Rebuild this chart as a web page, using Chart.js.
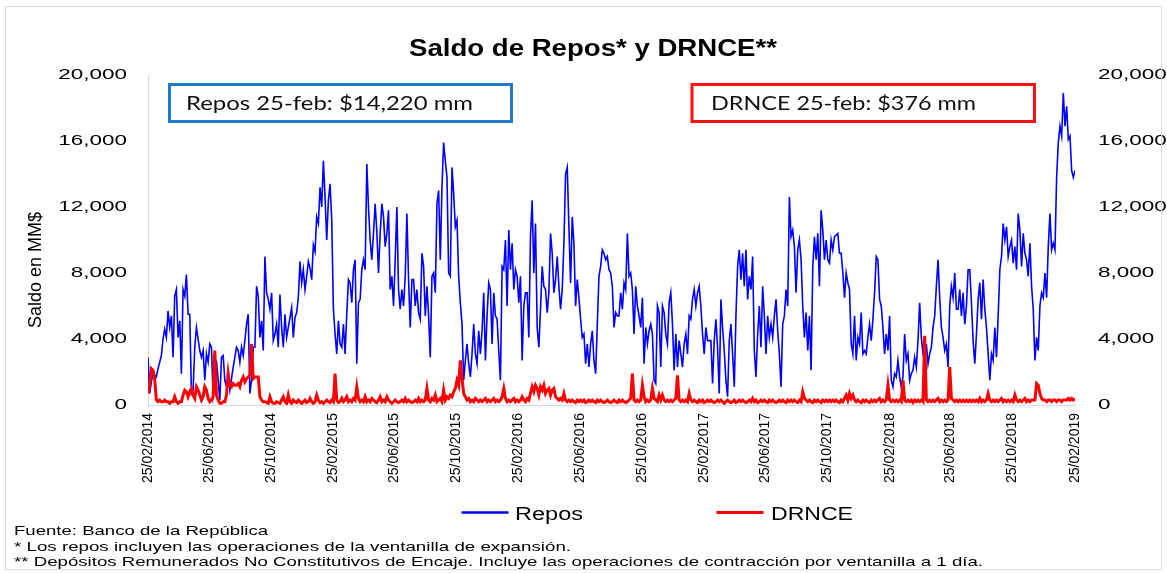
<!DOCTYPE html>
<html>
<head>
<meta charset="utf-8">
<script src="https://cdn.jsdelivr.net/npm/chart.js@4.4.1/dist/chart.umd.min.js"></script>
<style>
html,body{margin:0;padding:0;background:#fff;}
canvas{display:block;}
</style>
</head>
<body>
<canvas id="c" width="1167" height="573"></canvas>
<script>
// ---------- DATA ----------
const chartTitle = 'Saldo de Repos* y DRNCE**';
const yAxisTitle = 'Saldo en MM$';
const seriesNames = ['Repos', 'DRNCE'];
const reposNote = 'Repos 25-feb: $14,220 mm';
const drnceNote = 'DRNCE 25-feb: $376 mm';
const footnotes = [
  'Fuente: Banco de la República',
  '* Los repos incluyen las operaciones de la ventanilla de expansión.',
  '** Depósitos Remunerados No Constitutivos de Encaje. Incluye las operaciones de contracción por ventanilla a 1 día.'
];
const startDate = '2014-02-25';
const endDate = '2019-02-25';
const tickLabels = ['25/02/2014','25/06/2014','25/10/2014','25/02/2015','25/06/2015','25/10/2015',
  '25/02/2016','25/06/2016','25/10/2016','25/02/2017','25/06/2017','25/10/2017',
  '25/02/2018','25/06/2018','25/10/2018','25/02/2019'];
const yTicks = [0, 4000, 8000, 12000, 16000, 20000];

// Repos (MM$), evenly spaced observations from 25/02/2014 to 25/02/2019
const repos = [
2900,700,1400,1900,1800,1700,2200,2600,3000,4000,
4600,4100,5700,4700,5400,2900,6600,7000,4100,5100,
1900,7000,6600,7900,5500,5500,700,900,3500,4700,
4000,3300,2900,3300,1500,3100,2600,3700,3500,500,
1100,2700,1500,300,2900,3000,1500,1100,1700,900,
1600,2300,2900,3500,3300,2600,3500,3000,3900,4900,
5500,700,1500,3500,3500,7200,6600,4100,5100,3300,
9000,6800,6400,5800,6800,3900,4300,4900,3500,6700,
4700,3500,5500,4100,4700,5300,5900,4100,5300,5600,
6500,8700,7400,8200,7000,7800,8700,8300,7600,9700,
9300,11400,11000,13200,12000,14800,12600,10000,12400,13400,
11200,5800,4300,3100,5100,3700,3500,4900,3100,5500,
7600,7400,6200,8200,8800,2500,6200,6400,8200,8800,
8200,14600,
12000,10000,8800,10400,12200,10500,8000,10400,12200,11400,
9600,10400,11800,7000,7800,6000,8800,12000,7000,5800,
7000,6000,7800,11600,7600,4700,7600,7600,6000,7000,
5600,5200,9200,8400,5400,7200,5400,2900,7800,8000,
6800,12200,13000,8800,13200,15900,14800,13800,8000,7800,
14400,12800,10800,11200,7800,6200,4900,1500,2700,3700,
2500,1700,3100,4900,3100,2500,4500,3100,4500,6800,
2700,5400,7400,
7000,3700,6800,5400,5200,3300,1500,8400,8200,10000,
6000,10600,8200,9800,7000,8200,7800,6200,7800,2700,
6000,6800,6800,4100,10200,12400,8000,11000,4700,3500,
5800,8400,7200,7000,5600,6800,10400,9200,6800,7600,
9000,7200,5800,7000,9800,14000,14400,10800,7400,11400,
9800,6000,7600,6500,5200,4100,4300,2500,3700,2300,
3700,4500,2700,1900,4900,7800,8400,9400,9200,8800,
9000,8200,8000,7200,4700,5600,5400,5400,6800,5800,
7400,7000,10400,7800,8000,7000,4300,7200,6000,5400,
4700,6500,2500,4700,3700,4500,4900,4300,1500,1300,
6000,5600,2300,6000,5600,4300,3700,6200,6800,4900,
2100,4300,2300,3900,3100,2300,3700,4300,3100,5400,
5200,6400,7000,6000,6800,7200,6000,4300,3100,4700,
3900,3900,3900,1300,3900,5200,3500,700,6400,4700,
3300,1500,500,3900,4900,3100,1100,5400,8400,9400,
7600,9200,7200,9400,6400,7800,7000,9000,3300,1700,
4300,6000,3500,7200,5400,3100,5400,4100,4900,4100,
5400,6400,4500,3100,1100,4900,5400,7000,6000,12600,
10200,10600,9600,6800,9400,10000,8800,6000,4100,5600,
3300,5400,2100,8400,10200,8800,10400,7200,11800,10600,
8800,10000,8800,8600,
10000,9400,10200,10300,10400,9200,9200,8000,6500,8000,
7400,7000,3700,3100,5400,2700,4100,3700,5600,3100,
3300,3100,4100,4900,3900,5200,6800,9000,8800,6400,
6000,4700,3100,4300,3300,5400,1500,1100,1900,1700,
2700,1700,1100,1700,4300,2700,3100,1500,1900,2100,
2900,2300,3900,6200,4100,3100,2700,3700,2500,3100,
3500,4700,5400,7200,8800,6500,4700,4100,3300,3700,
2300,6000,7200,6500,8000,5800,5800,7000,5400,6800,
4900,6000,8200,8200,6200,3900,2500,4300,6400,7400,
5200,7600,5800,4700,3100,1500,3100,2700,4700,2900,
5400,8200,9000,11000,10000,10800,9000,9600,10000,8600,
9600,8200,11600,10600,8400,10400,9200,8800,7800,9800,
7200,5800,2700,4100,3300,6000,6800,6500,8000,6500,
9600,11600,9400,9800,9400,13800,15900,16900,16300,18900,
16900,18100,16100,16300,14200,13800,14220
];

// DRNCE (MM$), same observation dates
const drnce = [
700,1200,2200,2100,1600,300,200,300,200,200,
300,200,200,100,200,200,500,200,100,200,
200,600,900,800,500,800,1000,600,400,1100,
900,600,300,500,1100,900,400,200,300,500,
3300,600,300,100,100,200,200,600,1900,1200,
1100,1300,1200,1200,1300,1100,1500,1700,1400,1600,
1700,1800,3700,1600,1700,1700,1700,500,300,200,
200,150,100,500,200,100,100,200,150,100,
300,500,200,100,600,200,100,300,200,150,
300,200,100,200,300,150,200,400,200,100,
200,600,300,150,200,100,200,300,200,150,
300,200,1900,300,150,200,400,200,300,500,
200,300,200,400,300,1100,400,200,300,200,
500,200,300,200,400,300,200,150,300,500,
200,300,200,500,300,200,100,200,300,200,
150,200,300,200,400,200,300,200,150,200,
300,200,400,200,300,200,300,1000,300,200,
400,300,600,200,300,400,200,900,300,500,
400,600,500,800,1000,1500,1200,2700,1600,700,
500,300,400,200,300,200,400,300,200,300,
200,300,400,200,300,200,300,400,200,300,
200,300,500,1000,400,200,300,200,300,400,
200,300,200,300,500,300,200,400,300,700,
1100,800,1200,1000,600,1100,900,1200,700,900,
1000,600,900,1000,500,400,300,400,300,700,
300,200,300,200,300,200,150,300,200,300,
200,300,150,200,300,200,300,200,150,300,
200,300,200,150,200,300,200,150,200,300,
200,150,300,200,300,200,150,200,300,400,
1900,300,200,300,200,300,1200,500,200,300,
200,300,1000,400,300,200,600,300,600,300,
200,300,200,300,200,300,400,1800,300,200,
300,200,300,200,700,300,200,300,200,150,
300,200,300,150,200,300,200,300,200,150,
200,300,200,300,200,100,200,300,200,150,
200,300,150,200,300,200,300,200,150,200,
300,200,400,200,300,150,200,300,200,300,
200,150,300,200,300,200,150,200,300,200,
300,200,150,300,200,300,200,300,200,150,
300,200,800,400,300,200,300,200,150,300,
200,300,200,150,300,200,300,200,300,200,
300,200,300,200,150,300,200,400,600,300,
700,400,600,300,200,300,200,150,300,200,
300,200,150,300,200,300,200,300,400,200,
300,200,300,1200,300,200,300,200,300,200,
300,200,1500,300,200,300,200,300,150,300,
200,300,200,300,200,4200,300,200,300,200,
300,200,300,400,200,300,200,300,200,300,
2300,400,300,200,300,200,300,200,300,200,
300,200,300,200,300,200,300,200,400,200,
300,200,300,700,300,200,300,200,300,200,
300,400,200,300,200,300,200,300,200,600,
300,200,300,200,300,400,200,300,200,300,
300,300,1300,1200,700,400,300,300,200,300,
300,200,300,300,200,300,300,200,300,300,
300,400,300,400,300,376
];

// ---------- HELPERS ----------
const DAY = 86400000;
function parseDMY(s){ const [d,m,y] = s.split('/').map(Number); return Date.UTC(y, m-1, d); }
function parseISO(s){ const [y,m,d] = s.split('-').map(Number); return Date.UTC(y, m-1, d); }
const t0 = parseISO(startDate);
const totalDays = Math.round((parseISO(endDate) - t0) / DAY);
const tickDays = tickLabels.map(l => Math.round((parseDMY(l) - t0) / DAY));
function toPoints(arr){ const step = totalDays / (arr.length - 1); return arr.map((v,i) => ({x: i*step, y: v})); }

// horizontally widened glyphs for a scale's tick labels
function widened(scale, sx){
  if (scale.$wide) return;
  const orig = scale.drawLabels;
  scale.drawLabels = function(area){
    const c = this.ctx;
    const of = c.fillText;
    c.fillText = function(t, x, y, mw){
      this.save(); this.translate(x, y); this.scale(sx, 1);
      of.call(this, t, 0, 0); this.restore();
    };
    try { orig.call(this, area); } finally { delete c.fillText; }
  };
  scale.$wide = true;
}
function fitText(ctx, text, x, y, width){
  const w = ctx.measureText(text).width;
  ctx.save();
  ctx.translate(x, y);
  ctx.scale(width / w, 1);
  ctx.textAlign = 'left';
  ctx.fillText(text, 0, 0);
  ctx.restore();
}

const FONT = '"Liberation Sans", Arial, sans-serif';

const overlay = {
  id: 'overlay',
  beforeDraw(chart){
    const ctx = chart.ctx;
    ctx.save();
    ctx.fillStyle = '#fff';
    ctx.fillRect(0, 0, chart.width, chart.height);
    ctx.restore();
  },
  afterDraw(chart){
    const ctx = chart.ctx;
    ctx.save();
    // outer frame
    ctx.strokeStyle = '#d9d9d9';
    ctx.lineWidth = 1;
    ctx.strokeRect(5.5, 6.5, 1156, 563);

    ctx.fillStyle = '#000';
    ctx.textBaseline = 'alphabetic';
    // title
    ctx.font = 'bold 23px ' + FONT;
    fitText(ctx, chartTitle, 409, 55.5, 368);

    // y axis title
    ctx.save();
    ctx.translate(41, 270);
    ctx.rotate(-Math.PI/2);
    ctx.font = '18px ' + FONT;
    ctx.textAlign = 'center';
    ctx.fillText(yAxisTitle, 0, 0);
    ctx.restore();

    // note boxes
    ctx.lineWidth = 3;
    ctx.strokeStyle = '#1f78c8';
    ctx.strokeRect(169.5, 84.5, 342, 37);
    ctx.strokeStyle = '#ff1111';
    ctx.strokeRect(692, 84.5, 342.5, 37);
    ctx.fillStyle = '#111';
    ctx.font = '18.5px Lato, "Open Sans", sans-serif';
    fitText(ctx, reposNote, 186, 109.5, 287);
    fitText(ctx, drnceNote, 711, 109.5, 265);

    // legend
    const ds = chart.data.datasets;
    ctx.lineWidth = 2.5;
    ctx.strokeStyle = ds[0].borderColor;
    ctx.beginPath(); ctx.moveTo(461.5, 512.5); ctx.lineTo(508.5, 512.5); ctx.stroke();
    ctx.lineWidth = 3;
    ctx.strokeStyle = ds[1].borderColor;
    ctx.beginPath(); ctx.moveTo(716.5, 512.5); ctx.lineTo(763.5, 512.5); ctx.stroke();
    ctx.fillStyle = '#000';
    ctx.font = '18px ' + FONT;
    fitText(ctx, seriesNames[0], 515, 520, 68);
    fitText(ctx, seriesNames[1], 771, 520, 82);

    // footnotes
    ctx.font = '13.5px ' + FONT;
    fitText(ctx, footnotes[0], 14, 534.5, 254);
    fitText(ctx, footnotes[1], 14, 550.5, 557);
    fitText(ctx, footnotes[2], 14, 566, 969);
    ctx.restore();
  }
};

const yTickCfg = (pad) => ({
  padding: pad,
  color: '#000',
  font: { family: FONT, size: 15.5 },
  callback: v => Number(v).toLocaleString('en-US')
});

new Chart(document.getElementById('c').getContext('2d'), {
  type: 'line',
  data: {
    datasets: [
      { label: seriesNames[0], data: toPoints(repos), borderColor: '#0000ff', borderWidth: 1.6,
        pointRadius: 0, tension: 0, yAxisID: 'y', order: 1, fill: false },
      { label: seriesNames[1], data: toPoints(drnce), borderColor: '#ff0000', borderWidth: 3,
        pointRadius: 0, tension: 0, yAxisID: 'y2', order: 0, fill: false }
    ]
  },
  options: {
    responsive: false,
    animation: false,
    devicePixelRatio: 1,
    layout: { padding: { top: 75, left: 0, right: 0, bottom: 0 } },
    plugins: { legend: { display: false }, title: { display: false }, tooltip: { enabled: false } },
    scales: {
      x: {
        type: 'linear', min: 0, max: totalDays,
        afterBuildTicks: s => { s.ticks = tickDays.map(v => ({ value: v })); },
        ticks: {
          autoSkip: false, minRotation: 90, maxRotation: 90, padding: 8, color: '#000',
          font: { family: FONT, size: 14 },
          callback: (v, i) => tickLabels[i]
        },
        grid: { display: false, drawTicks: false },
        border: { display: true, color: '#d9d9d9', width: 1 },
        afterFit: s => { s.height = 168; }
      },
      y: {
        position: 'left', min: 0, max: 20000,
        afterBuildTicks: s => { s.ticks = yTicks.map(v => ({ value: v })); },
        ticks: yTickCfg(21),
        grid: { display: false, drawTicks: false },
        border: { display: true, color: '#d9d9d9', width: 1 },
        afterFit: s => { s.width = 148; widened(s, 1.45); }
      },
      y2: {
        position: 'right', min: 0, max: 20000,
        afterBuildTicks: s => { s.ticks = yTicks.map(v => ({ value: v })); },
        ticks: yTickCfg(23),
        grid: { display: false, drawTicks: false },
        border: { display: false },
        afterFit: s => { s.width = 92; widened(s, 1.45); }
      }
    }
  },
  plugins: [overlay]
});
</script>
</body>
</html>
